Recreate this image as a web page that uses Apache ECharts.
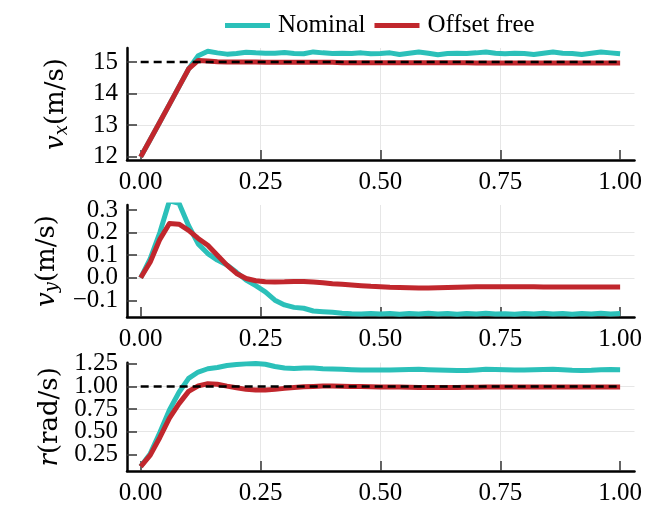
<!DOCTYPE html>
<html>
<head>
<meta charset="utf-8">
<script src="https://cdn.jsdelivr.net/npm/echarts@6/dist/echarts.min.js"></script>
<style>
  html, body { margin: 0; padding: 0; background: #fff; }
  #chart { width: 645px; height: 506px; }
</style>
</head>
<body>
<div id="chart"></div>
<script>
// time samples (s)
const time = [0.00, 0.02, 0.04, 0.06, 0.08, 0.10, 0.12, 0.14, 0.16, 0.18,
  0.20, 0.22, 0.24, 0.26, 0.28, 0.30, 0.32, 0.34, 0.36, 0.38,
  0.40, 0.42, 0.44, 0.46, 0.48, 0.50, 0.52, 0.54, 0.56, 0.58,
  0.60, 0.62, 0.64, 0.66, 0.68, 0.70, 0.72, 0.74, 0.76, 0.78,
  0.80, 0.82, 0.84, 0.86, 0.88, 0.90, 0.92, 0.94, 0.96, 0.98, 1.00];

// v_x (m/s)
const vxNominal = [12.00, 12.55, 13.10, 13.66, 14.22, 14.78, 15.20, 15.34, 15.29, 15.25,
  15.27, 15.31, 15.29, 15.28, 15.28, 15.30, 15.27, 15.26, 15.32, 15.29,
  15.27, 15.28, 15.27, 15.29, 15.26, 15.27, 15.29, 15.24, 15.28, 15.32,
  15.28, 15.23, 15.27, 15.28, 15.27, 15.29, 15.32, 15.28, 15.26, 15.28,
  15.27, 15.24, 15.28, 15.32, 15.28, 15.27, 15.24, 15.28, 15.32, 15.29, 15.26];
const vxOffsetFree = [12.00, 12.55, 13.10, 13.66, 14.22, 14.78, 15.05, 15.03, 15.01, 15.00,
  15.00, 15.00, 15.00, 14.99, 14.99, 14.99, 14.99, 14.99, 14.99, 14.99,
  14.99, 14.98, 14.98, 14.98, 14.98, 14.98, 14.98, 14.98, 14.98, 14.98,
  14.98, 14.98, 14.98, 14.98, 14.98, 14.97, 14.97, 14.97, 14.97, 14.97,
  14.97, 14.97, 14.97, 14.97, 14.97, 14.97, 14.97, 14.97, 14.97, 14.97, 14.97];

// v_y (m/s)
const vyNominal = [0.000, 0.085, 0.200, 0.340, 0.330, 0.230, 0.150, 0.107, 0.078, 0.056,
  0.024, -0.010, -0.035, -0.062, -0.099, -0.120, -0.131, -0.135, -0.147, -0.150,
  -0.153, -0.157, -0.159, -0.160, -0.158, -0.160, -0.158, -0.161, -0.158, -0.160,
  -0.157, -0.160, -0.158, -0.161, -0.158, -0.160, -0.157, -0.160, -0.159, -0.161,
  -0.158, -0.160, -0.157, -0.160, -0.158, -0.161, -0.158, -0.160, -0.157, -0.160, -0.158];
const vyOffsetFree = [0.000, 0.070, 0.170, 0.240, 0.237, 0.210, 0.174, 0.144, 0.100, 0.056,
  0.019, -0.003, -0.013, -0.018, -0.019, -0.018, -0.016, -0.016, -0.019, -0.022,
  -0.026, -0.029, -0.032, -0.035, -0.038, -0.040, -0.042, -0.043, -0.044, -0.045,
  -0.045, -0.044, -0.043, -0.042, -0.041, -0.040, -0.040, -0.040, -0.040, -0.040,
  -0.040, -0.040, -0.041, -0.041, -0.041, -0.041, -0.041, -0.041, -0.041, -0.041, -0.041];

// r (rad/s)
const rNominal = [0.114, 0.257, 0.490, 0.740, 0.936, 1.089, 1.160, 1.196, 1.210, 1.232,
  1.243, 1.250, 1.254, 1.246, 1.221, 1.204, 1.200, 1.204, 1.204, 1.196,
  1.193, 1.190, 1.186, 1.182, 1.182, 1.182, 1.183, 1.185, 1.188, 1.190,
  1.186, 1.182, 1.180, 1.178, 1.176, 1.182, 1.190, 1.188, 1.184, 1.182,
  1.183, 1.185, 1.188, 1.190, 1.186, 1.180, 1.178, 1.180, 1.185, 1.187, 1.186];
const rOffsetFree = [0.114, 0.240, 0.436, 0.650, 0.810, 0.946, 1.007, 1.030, 1.025, 1.004,
  0.986, 0.968, 0.960, 0.960, 0.968, 0.979, 0.989, 0.996, 1.000, 1.004,
  1.004, 1.003, 1.001, 0.999, 0.997, 0.995, 0.994, 0.993, 0.991, 0.989,
  0.988, 0.988, 0.989, 0.990, 0.991, 0.992, 0.993, 0.994, 0.994, 0.994,
  0.994, 0.994, 0.994, 0.993, 0.993, 0.993, 0.993, 0.993, 0.993, 0.993, 0.993];

// dashed references
const refTime = [0, 1];
const refVx = [15, 15];
const refR = [1, 1];

// tick values
const xTicks = [0, 0.25, 0.5, 0.75, 1];
const vxTicks = [12, 13, 14, 15];
const vyTicks = [-0.1, 0, 0.1, 0.2, 0.3];
const rTicks = [0.25, 0.5, 0.75, 1, 1.25];
// labels are split over two stacked axes so the tightly packed ones all show
const vyLabelsA = [-0.1, 0.1, 0.3];
const vyLabelsB = [0, 0.2];
const rLabelsA = [0.25, 0.75, 1.25];
const rLabelsB = [0.5, 1];

const CYAN = '#2bc0b9';
const RED = '#c1272d';
const FONT = 'Liberation Serif';
const NAME_FONT = 'DejaVu Serif';
const FS = 25;
const NFS = 26;

function pairs(xs, ys) {
  return xs.map((x, i) => [x, ys[i]]);
}
function minus(s) {
  return s.replace('-', '\u2212');
}

const chart = echarts.init(document.getElementById('chart'));

const tops = [48, 205, 362.7];
const grid = tops.map(t => ({ left: 127, right: 10, top: t, height: 112 }));

const xAxis = [0, 1, 2].map(i => ({
  type: 'value',
  gridIndex: i,
  min: -0.0285,
  max: 1.03,
  axisLine: { show: true, onZero: false, lineStyle: { color: '#000', width: 2.5 } },
  axisTick: { show: true, inside: true, length: 10, customValues: xTicks,
    lineStyle: { color: '#333', width: 1.5 } },
  axisLabel: { customValues: xTicks, showMinLabel: true, showMaxLabel: true,
    margin: 10, color: '#000', fontFamily: FONT, fontSize: FS,
    formatter: v => v.toFixed(2) },
  splitLine: { show: true, showMinLine: false, showMaxLine: false,
    lineStyle: { color: '#e6e6e6', width: 1 } }
}));

function labelStyle(values, digits) {
  return { customValues: values, showMinLabel: true, showMaxLabel: true,
    margin: 9, color: '#000', fontFamily: FONT, fontSize: FS,
    formatter: v => minus(v.toFixed(digits)) };
}

function yAx(i, min, max, ticks, labels, digits, name) {
  return {
    type: 'value',
    gridIndex: i,
    position: 'left',
    min: min,
    max: max,
    name: name,
    nameLocation: 'middle',
    nameGap: 56,
    nameTextStyle: {
      color: '#000', fontFamily: NAME_FONT, fontSize: NFS,
      rich: {
        i: { fontFamily: NAME_FONT, fontSize: NFS, fontStyle: 'italic', color: '#000' },
        s: { fontFamily: NAME_FONT, fontSize: 18, fontStyle: 'italic', color: '#000', padding: [12, 0, 0, 0] },
        u: { fontFamily: NAME_FONT, fontSize: NFS, color: '#000' }
      }
    },
    axisLine: { show: true, onZero: false, lineStyle: { color: '#000', width: 2.5 } },
    axisTick: { show: true, inside: true, length: 10, customValues: ticks,
      lineStyle: { color: '#333', width: 1.5 } },
    axisLabel: labelStyle(labels, digits),
    splitLine: { show: true, showMinLine: false, showMaxLine: false,
      lineStyle: { color: '#e6e6e6', width: 1 } }
  };
}

// label-only twin axis
function yLabels(i, min, max, labels, digits) {
  return {
    type: 'value',
    gridIndex: i,
    position: 'left',
    offset: 0,
    min: min,
    max: max,
    axisLine: { show: false },
    axisTick: { show: false },
    splitLine: { show: false },
    axisLabel: labelStyle(labels, digits)
  };
}

const yAxis = [
  yAx(0, 11.9, 15.444, vxTicks, vxTicks, 0, '{i|v}{s|x}{u|(m/s)}'),
  yAx(1, -0.1736, 0.322, vyTicks, vyLabelsA, 1, '{i|v}{s|y}{u|(m/s)}'),
  yAx(2, 0.065, 1.263, rTicks, rLabelsA, 2, '{i|r}{u|(rad/s)}'),
  yLabels(1, -0.1736, 0.322, vyLabelsB, 1),
  yLabels(2, 0.065, 1.263, rLabelsB, 2)
];

function lineSeries(name, color, idx, data) {
  return {
    name: name, type: 'line', xAxisIndex: idx, yAxisIndex: idx,
    data: data, showSymbol: false, symbol: 'none', clip: true,
    lineStyle: { color: color, width: 5, join: 'round' },
    itemStyle: { color: color },
    emphasis: { disabled: true }
  };
}
function refSeries(idx, data) {
  return {
    name: 'reference', type: 'line', xAxisIndex: idx, yAxisIndex: idx,
    data: data, showSymbol: false, symbol: 'none',
    lineStyle: { color: '#000', width: 2.5, type: [8, 5] },
    emphasis: { disabled: true }, z: 5
  };
}

const option = {
  animation: false,
  backgroundColor: '#fff',
  legend: {
    data: ['Nominal', 'Offset free'],
    left: 220,
    top: 8,
    icon: 'rect',
    itemWidth: 45,
    itemHeight: 5,
    itemGap: 9,
    textStyle: { color: '#000', fontFamily: FONT, fontSize: FS, padding: [0, 0, 0, 3] }
  },
  grid: grid,
  xAxis: xAxis,
  yAxis: yAxis,
  series: [
    lineSeries('Nominal', CYAN, 0, pairs(time, vxNominal)),
    lineSeries('Offset free', RED, 0, pairs(time, vxOffsetFree)),
    refSeries(0, pairs(refTime, refVx)),
    lineSeries('Nominal', CYAN, 1, pairs(time, vyNominal)),
    lineSeries('Offset free', RED, 1, pairs(time, vyOffsetFree)),
    lineSeries('Nominal', CYAN, 2, pairs(time, rNominal)),
    lineSeries('Offset free', RED, 2, pairs(time, rOffsetFree)),
    refSeries(2, pairs(refTime, refR))
  ]
};

chart.setOption(option);
</script>
</body>
</html>
